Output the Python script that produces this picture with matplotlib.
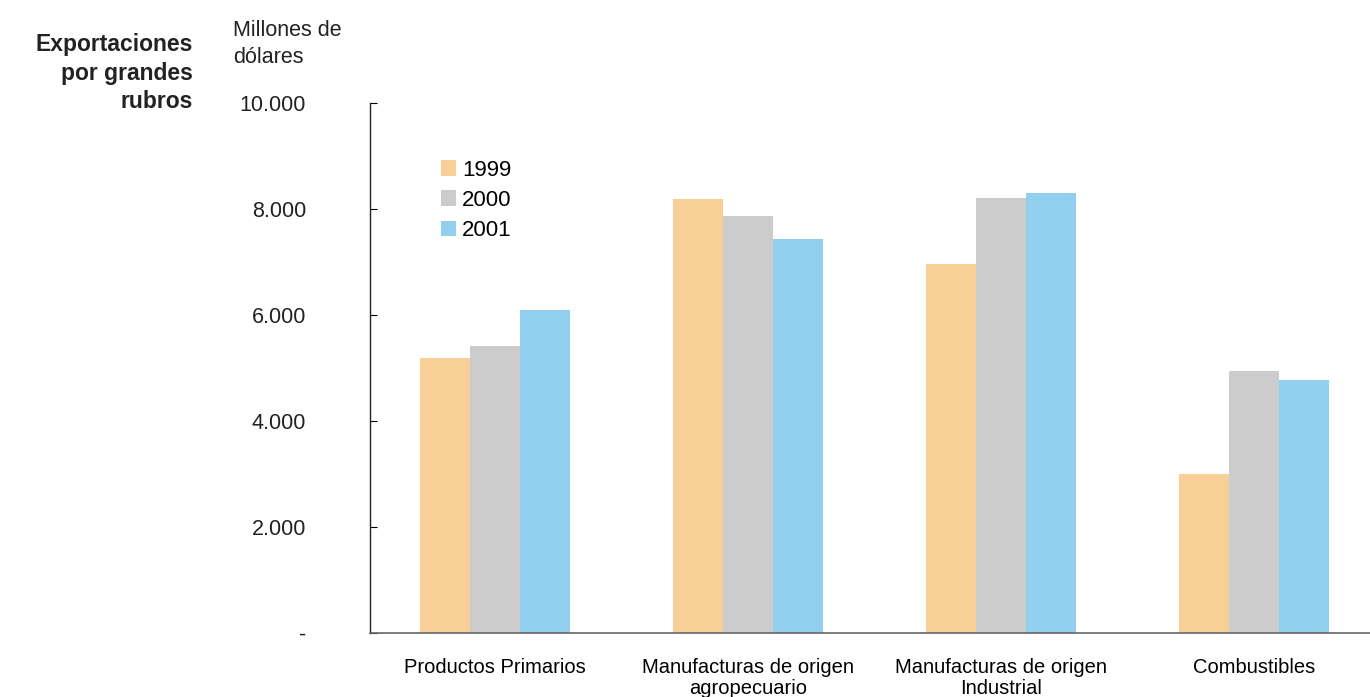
import matplotlib
matplotlib.use('Agg')
import matplotlib.pyplot as plt
import numpy as np

plt.rcParams['font.family'] = ['Liberation Sans', 'DejaVu Sans']

rubros = ['Productos Primarios', 'Manufacturas de origen\nagropecuario',
          'Manufacturas de origen\nIndustrial', 'Combustibles']
anios = ['1999', '2000', '2001']
exp_1999 = [5190, 8190, 6960, 3000]
exp_2000 = [5415, 7870, 8210, 4940]
exp_2001 = [6090, 7430, 8300, 4770]
yticks = [0, 2000, 4000, 6000, 8000, 10000]
ytick_labels = ['-', '2.000', '4.000', '6.000', '8.000', '10.000']

colores = ['#F9CF98', '#CCCCCC', '#90D0EE']

fig = plt.figure(figsize=(13.7, 6.97), dpi=100, facecolor='white')
ax = fig.add_axes([0.270, 0.0918, 0.730, 0.7604])

x = np.arange(len(rubros))
w = 0.197
for i, (vals, lab, col) in enumerate(zip([exp_1999, exp_2000, exp_2001], anios, colores)):
    ax.bar(x + (i - 1) * w, vals, width=w, color=col, label=lab, linewidth=0)

ax.set_xlim(-0.494, 3.458)
ax.set_ylim(0, 10000)
ax.set_yticks(yticks)
ax.set_yticklabels(ytick_labels, fontsize=15.5)
ax.set_xticks(x)
ax.set_xticklabels(rubros, fontsize=14.5, linespacing=1.1, va='top')
ax.tick_params(axis='x', length=0, pad=18)
ax.tick_params(axis='y', direction='in', length=5, width=0.8, pad=46)
for lbl in ax.get_yticklabels():
    lbl.set_color('#222222')

ax.spines['top'].set_visible(False)
ax.spines['right'].set_visible(False)
ax.spines['left'].set_color('#222222')
ax.spines['left'].set_linewidth(1.0)
ax.spines['bottom'].set_color('#666666')
ax.spines['bottom'].set_linewidth(1.2)

ax.legend(loc='upper left', bbox_to_anchor=(0.062, 0.91), frameon=False,
          fontsize=16, handlelength=0.7, handleheight=0.7,
          handletextpad=0.25, labelspacing=0.42, borderaxespad=0)

fig.text(0.1408, 0.952, 'Exportaciones\npor grandes\nrubros', ha='right', va='top',
         fontsize=16.5, fontweight='bold', color='#222222', linespacing=1.3)
fig.text(0.170, 0.972, 'Millones de\ndólares', ha='left', va='top',
         fontsize=15.5, color='#222222', linespacing=1.4)

plt.savefig('out.png', dpi=100, facecolor='white')
